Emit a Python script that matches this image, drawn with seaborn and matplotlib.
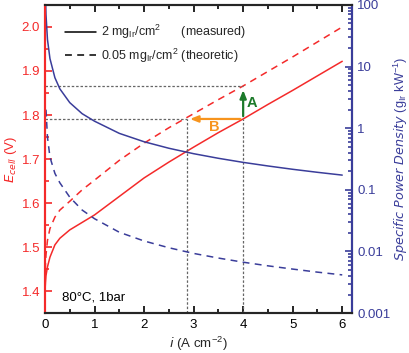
import numpy as np
import pandas as pd
import matplotlib
matplotlib.use('Agg')
import matplotlib.pyplot as plt
import seaborn as sns
from matplotlib.lines import Line2D
from matplotlib.ticker import MultipleLocator, LogLocator, NullFormatter, FixedLocator

# current density (A/cm2) and cell voltage
i_vals = [0, 0.01, 0.02, 0.05, 0.1, 0.2, 0.3, 0.5, 0.75, 1, 1.5, 2, 2.5, 3, 3.5, 4, 4.5, 5, 5.5, 6]
E_meas = [1.40, 1.42, 1.435, 1.455, 1.477, 1.505, 1.52, 1.539, 1.556, 1.573, 1.615, 1.657,
          1.693, 1.727, 1.76, 1.791, 1.824, 1.856, 1.889, 1.922]
E_theo = [1.42, 1.46, 1.482, 1.515, 1.542, 1.568, 1.584, 1.604, 1.630, 1.652, 1.697, 1.736,
          1.771, 1.803, 1.835, 1.866, 1.899, 1.932, 1.966, 2.0]

# specific power density (g_Ir / kW), right axis
i_spd = [0.01, 0.02, 0.05, 0.1, 0.2, 0.3, 0.5, 0.75, 1, 1.5, 2, 2.5, 3, 3.5, 4, 4.5, 5, 5.5, 6]
spd_meas = [141, 70, 27.5, 13.5, 6.6, 4.35, 2.6, 1.72, 1.3, 0.825, 0.603, 0.473, 0.386,
            0.325, 0.279, 0.244, 0.2155, 0.1925, 0.1734]
i_spd_t = [0.02, 0.05, 0.1, 0.2, 0.3, 0.5, 0.75, 1, 1.5, 2, 2.5, 3, 3.5, 4, 4.5, 5, 5.5, 6]
spd_theo = [2.0, 0.72, 0.34, 0.185, 0.13, 0.076, 0.047, 0.034, 0.0205, 0.0148,
            0.0115, 0.0093, 0.00782, 0.00670, 0.00585, 0.00518, 0.00462, 0.00417]

# A / B construction
i_A, E_A0, E_A1 = 4.0, 1.791, 1.865
i_B = 2.87

left_ticks = [1.4, 1.5, 1.6, 1.7, 1.8, 1.9, 2.0]
right_ticks = [0.001, 0.01, 0.1, 1, 10, 100]
right_labels = ['0.001', '0.01', '0.1', '1', '10', '100']

red = '#f42a2a'
blue = '#3a3d9a'

sns.set_style('ticks')
plt.rcParams['font.family'] = ['Liberation Sans', 'DejaVu Sans']
plt.rcParams['mathtext.default'] = 'regular'
plt.rcParams['font.size'] = 9.5

volt = pd.DataFrame({'i': i_vals, 'meas': E_meas, 'theo': E_theo})
spd = pd.DataFrame({'i': i_spd, 'meas': spd_meas})
spd_t = pd.DataFrame({'i': i_spd_t, 'theo': spd_theo})

fig = plt.figure(figsize=(4.09, 3.53), dpi=100)
ax = fig.add_axes([0.110, 0.113, 0.751, 0.873])
ax2 = ax.twinx()

sns.lineplot(data=volt, x='i', y='meas', ax=ax, color=red, lw=1.1)
sns.lineplot(data=volt, x='i', y='theo', ax=ax, color=red, lw=1.1)
ax.lines[-1].set_linestyle((0, (4.5, 3.5)))

sns.lineplot(data=spd, x='i', y='meas', ax=ax2, color=blue, lw=1.1)
sns.lineplot(data=spd_t, x='i', y='theo', ax=ax2, color=blue, lw=1.1)
ax2.lines[-1].set_linestyle((0, (4.5, 3.5)))

# dotted guide lines
gc = '#666666'
ax.plot([0, i_A], [E_A1, E_A1], ls=(0, (2, 1.5)), color=gc, lw=0.9)
ax.plot([0, i_B], [E_A0, E_A0], ls=(0, (2, 1.5)), color=gc, lw=0.9)
ax.plot([i_A, i_A], [1.35, E_A0], ls=(0, (2, 1.5)), color=gc, lw=0.9)
ax.plot([i_B, i_B], [1.35, E_A0], ls=(0, (2, 1.5)), color=gc, lw=0.9)

# arrows
ax.annotate('', xy=(i_A, E_A1 - 0.002), xytext=(i_A, E_A0),
            arrowprops=dict(arrowstyle='-|>,head_length=0.5,head_width=0.2', color='#1c7a2a', lw=1.6))
ax.annotate('', xy=(i_B, E_A0), xytext=(i_A, E_A0),
            arrowprops=dict(arrowstyle='-|>,head_length=0.5,head_width=0.2', color='#f7941d', lw=1.6))
ax.text(i_A + 0.08, 1.828, 'A', color='#1c7a2a', fontsize=10.5, fontweight='bold', ha='left', va='center')
ax.text(3.42, 1.772, 'B', color='#f7941d', fontsize=10.5, fontweight='bold', ha='center', va='center')

ax.text(0.35, 1.385, '80\u00b0C, 1bar', fontsize=9.5, color='k', ha='left', va='center')

ax.set_xlim(0, 6.2)
ax.set_ylim(1.35, 2.05)
ax2.set_yscale('log')
ax2.set_ylim(0.001, 100)

ax.xaxis.set_major_locator(MultipleLocator(1))
ax.xaxis.set_minor_locator(MultipleLocator(0.5))
ax.yaxis.set_major_locator(FixedLocator(left_ticks))
ax.yaxis.set_minor_locator(MultipleLocator(0.05))
ax.set_yticklabels([f'{v:.1f}' for v in left_ticks])
ax2.yaxis.set_major_locator(FixedLocator(right_ticks))
ax2.set_yticklabels(right_labels)
ax2.yaxis.set_minor_locator(LogLocator(base=10, subs=np.arange(2, 10)))
ax2.yaxis.set_minor_formatter(NullFormatter())

ax.tick_params(axis='x', which='both', direction='in', top=True, colors='k', width=1.2)
ax.tick_params(axis='x', which='major', length=5, pad=4)
ax.tick_params(axis='x', which='minor', length=3)
ax.tick_params(axis='y', which='both', direction='in', colors=red, labelcolor=red, width=1.2)
ax.tick_params(axis='y', which='major', length=5)
ax.tick_params(axis='y', which='minor', length=3)
ax2.tick_params(axis='y', which='both', direction='in', colors=blue, labelcolor=blue, width=1.2)
ax2.tick_params(axis='y', which='major', length=5)
ax2.tick_params(axis='y', which='minor', length=3)

for a in (ax, ax2):
    for s in a.spines.values():
        s.set_linewidth(1.5)
ax2.spines['left'].set_color(red)
ax2.spines['right'].set_color(blue)
ax.spines['left'].set_color(red)

ax.set_xlabel('$\\it{i}$ (A cm$^{-2}$)', fontsize=9.5, labelpad=3)
ax.set_ylabel('$\\it{E}_{cell}$ (V)', color=red, fontsize=9.5, labelpad=2)
ax2.set_ylabel('$\\it{Specific\\ Power\\ Density}$ (g$_{Ir}$ kW$^{-1}$)', color=blue,
               fontsize=9.2, labelpad=1)

handles = [Line2D([], [], color='k', lw=1.1),
           Line2D([], [], color='k', lw=1.1, ls=(0, (4.5, 3.5)))]
labels = ['2 mg$_{Ir}$/cm$^2$      (measured)', '0.05 mg$_{Ir}$/cm$^2$ (theoretic)']
ax2.legend(handles, labels, loc='upper left', bbox_to_anchor=(0.065, 0.942), frameon=False,
           fontsize=9, handlelength=2.5, labelspacing=0.45, handletextpad=0.4,
           borderpad=0, borderaxespad=0)

plt.savefig('out.png', dpi=100)
